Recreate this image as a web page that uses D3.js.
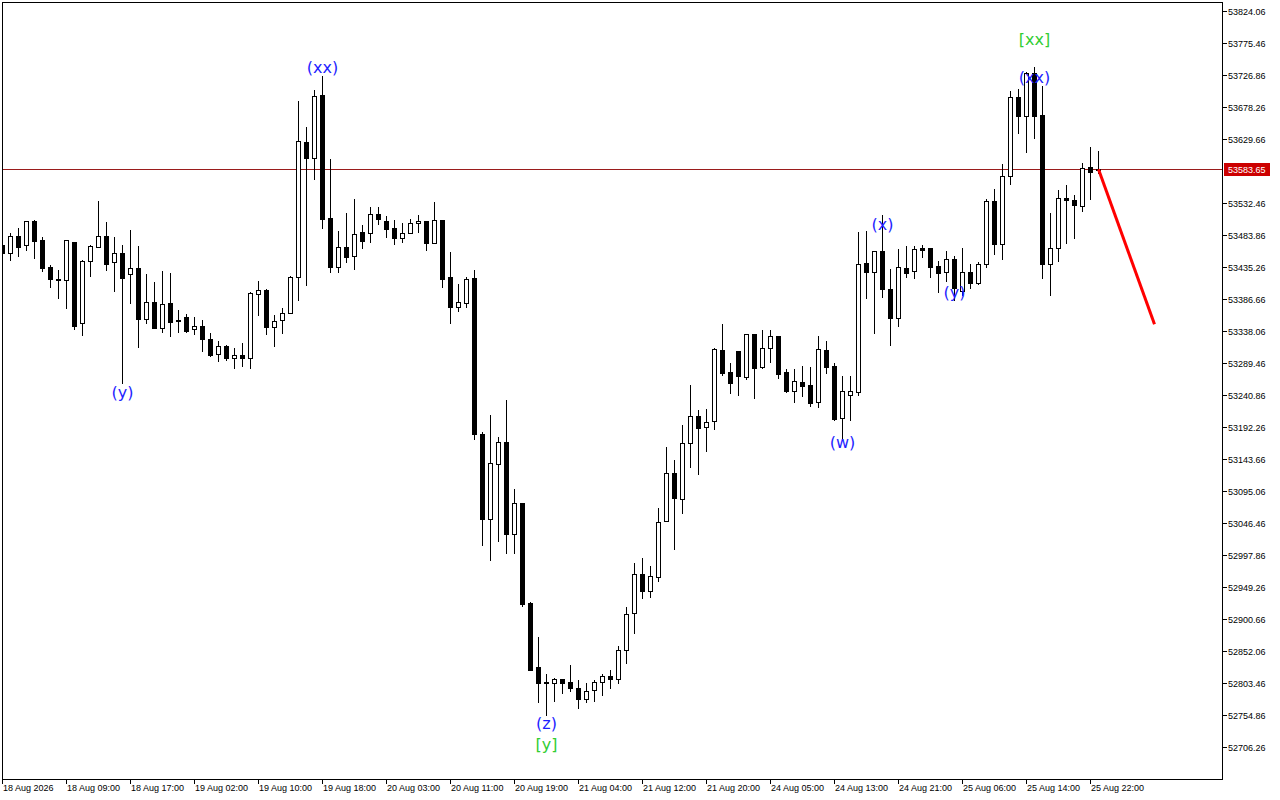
<!DOCTYPE html>
<html><head><meta charset="utf-8">
<script src="https://cdn.jsdelivr.net/npm/d3@7"></script>
<style>body{margin:0;background:#fff;overflow:hidden}svg{display:block}</style>
</head><body>
<svg id="chart" width="1280" height="800"></svg>
<script>
const timeLabels = ["18 Aug 2026","18 Aug 09:00","18 Aug 17:00","19 Aug 02:00","19 Aug 10:00","19 Aug 18:00","20 Aug 03:00","20 Aug 11:00","20 Aug 19:00","21 Aug 04:00","21 Aug 12:00","21 Aug 20:00","24 Aug 05:00","24 Aug 13:00","24 Aug 21:00","25 Aug 06:00","25 Aug 14:00","25 Aug 22:00"];
const labelEvery = 8;
const priceTicks = [53824.06,53775.46,53726.86,53678.26,53629.66,53532.46,53483.86,53435.26,53386.66,53338.06,53289.46,53240.86,53192.26,53143.66,53095.06,53046.46,52997.86,52949.26,52900.66,52852.06,52803.46,52754.86,52706.26];
const currentPrice = 53583.65;

const opens = [53468.7,53456.5,53482.3,53468.7,53505.1,53476.3,53435.3,53417.0,53415.5,53473.2,53350.2,53444.4,53465.6,53482.3,53442.9,53456.5,53424.6,53433.7,53356.3,53382.1,53342.6,53380.6,53354.8,53359.3,53341.1,53345.7,53325.9,53303.1,53315.3,53297.1,53301.6,53297.1,53394.3,53400.3,53344.1,53354.8,53365.4,53420.1,53625.1,53600.8,53696.5,53509.7,53435.3,53465.6,53452.0,53488.4,53486.9,53515.8,53505.1,53494.5,53479.3,53486.9,53502.1,53505.1,53471.7,53506.6,53420.1,53374.5,53380.6,53418.6,53181.6,53052.5,53136.1,53169.5,53029.8,53076.8,52925.0,52827.8,52805.0,52803.5,52809.5,52805.0,52795.9,52779.2,52792.8,52805.0,52814.1,52809.5,52853.6,52909.8,52969.0,52943.2,52964.5,53049.5,53122.4,53082.9,53168.0,53209.0,53192.3,53201.4,53309.2,53275.8,53307.7,53268.2,53333.5,53283.4,53312.2,53330.5,53275.8,53246.9,53260.6,53256.1,53230.2,53309.2,53284.9,53205.9,53240.9,53245.4,53441.3,53427.7,53459.6,53401.9,53357.8,53433.7,53429.2,53464.1,53464.1,53436.8,53427.7,53447.4,53398.8,53427.7,53411.0,53439.8,53535.5,53470.2,53573.5,53693.4,53664.6,53729.9,53666.1,53439.8,53464.1,53540.1,53537.0,53527.9,53587.1,53584.4];
const highs = [53473.2,53486.9,53494.5,53505.1,53506.6,53480.8,53438.3,53430.7,53476.3,53473.2,53445.9,53468.7,53535.5,53503.6,53480.8,53468.7,53491.5,53467.2,53424.6,53412.5,53429.2,53426.2,53370.0,53363.9,53359.3,53354.8,53335.0,53322.9,53316.8,53312.2,53319.8,53397.3,53414.0,53401.9,53362.4,53373.0,53421.6,53687.4,53647.9,53704.1,53725.3,53599.3,53489.9,53517.3,53538.5,53499.1,53526.4,53526.4,53512.7,53506.6,53502.1,53508.2,53514.2,53505.1,53534.0,53506.6,53458.0,53409.4,53420.1,53430.7,53184.7,53210.5,53177.1,53233.3,53098.1,53076.8,52926.5,52873.3,52817.1,52811.1,52809.5,52830.8,52808.0,52803.5,52808.0,52817.1,52823.2,52859.7,52918.9,52985.7,52993.3,52981.2,53069.2,53161.9,53142.1,53195.3,53256.1,53218.1,53219.6,53312.2,53348.7,53289.5,53307.7,53333.5,53333.5,53339.6,53339.6,53330.5,53280.4,53280.4,53284.9,53283.4,53330.5,53322.9,53289.5,53269.7,53269.7,53488.4,53489.9,53459.6,53514.2,53432.2,53462.6,53467.2,53467.2,53468.7,53464.1,53444.4,53459.6,53452.0,53464.1,53439.8,53442.9,53538.5,53553.7,53591.7,53702.6,53705.6,53731.4,53739.0,53710.2,53517.3,53552.2,53559.8,53544.6,53593.2,53617.5,53611.4];
const lows = [53450.5,53445.9,53452.0,53461.1,53448.9,53429.2,53404.9,53388.2,53373.0,53341.1,53332.0,53421.6,53465.6,53430.7,53398.8,53259.1,53380.6,53313.8,53350.2,53342.6,53336.5,53330.5,53336.5,53336.5,53333.5,53307.7,53300.1,53292.5,53294.0,53281.9,53284.9,53281.9,53362.4,53333.5,53315.3,53335.0,53365.4,53385.1,53407.9,53568.9,53494.5,53427.7,53427.7,53442.9,53432.2,53464.1,53473.2,53500.6,53480.8,53470.2,53473.2,53486.9,53488.4,53461.1,53471.7,53404.9,53350.2,53368.4,53374.5,53174.0,53013.1,52990.3,53019.1,53000.9,53000.9,52920.4,52823.2,52774.6,52754.9,52776.1,52788.3,52791.3,52765.5,52774.6,52776.1,52785.2,52795.9,52803.5,52833.8,52879.4,52932.6,52934.1,52958.4,53049.5,53007.0,53061.7,53131.5,53120.9,53155.8,53189.2,53271.2,53243.9,53240.9,53265.2,53236.3,53281.9,53291.0,53266.7,53245.4,53230.2,53239.3,53224.2,53222.6,53274.3,53202.9,53172.5,53202.9,53240.9,53388.2,53335.0,53389.7,53316.8,53345.7,53420.1,53418.6,53450.5,53420.1,53397.3,53414.0,53385.1,53392.7,53403.4,53409.4,53435.3,53455.0,53447.4,53561.3,53638.8,53609.9,53631.2,53418.6,53392.7,53444.4,53471.7,53479.3,53520.3,53538.5,53578.0];
const closes = [53456.5,53482.3,53465.6,53505.1,53474.8,53433.7,53417.0,53415.5,53476.3,53345.7,53444.4,53467.2,53482.3,53439.8,53456.5,53418.6,53433.7,53356.3,53382.1,53342.6,53379.1,53351.7,53353.3,53338.1,53345.7,53325.9,53301.6,53315.3,53297.1,53301.6,53297.1,53395.8,53400.3,53344.1,53353.3,53365.4,53420.1,53626.6,53600.8,53695.0,53508.2,53435.3,53465.6,53450.5,53485.4,53474.8,53515.8,53508.2,53493.0,53479.3,53486.9,53502.1,53505.1,53471.7,53506.6,53417.0,53374.5,53382.1,53417.0,53181.6,53052.5,53137.6,53169.5,53029.8,53076.8,52923.4,52823.2,52803.5,52803.5,52809.5,52803.5,52795.9,52779.2,52791.3,52805.0,52814.1,52809.5,52853.6,52908.3,52969.0,52943.2,52966.0,53048.0,53122.4,53084.4,53168.0,53209.0,53190.7,53199.9,53310.7,53274.3,53259.1,53269.7,53333.5,53281.9,53312.2,53330.5,53272.8,53246.9,53262.1,53254.5,53228.7,53310.7,53283.4,53204.4,53246.9,53246.9,53439.8,53427.7,53459.6,53401.9,53357.8,53435.3,53426.2,53462.6,53461.1,53435.3,53426.2,53447.4,53403.4,53427.7,53411.0,53439.8,53535.5,53470.2,53573.5,53693.4,53664.6,53729.9,53664.6,53439.8,53464.1,53540.1,53537.0,53529.4,53585.6,53579.5,53583.65];

// wave labels: text, bar index, price, colour
const waveText  = ["(y)","(xx)","(z)","[y]","(w)","(x)","(y)","(xx)","[xx]"];
const waveIndex = [15,40,68,68,105,110,119,129,129];
const wavePrice = [53245.4,53737.5,52742.7,52710.8,53168.0,53499.1,53395.8,53723.8,53781.5];
const waveColor = ["#1e1eff","#1e1eff","#1e1eff","#32cd32","#1e1eff","#1e1eff","#1e1eff","#1e1eff","#32cd32"];

// projection line
const projIndex = [137,144];
const projPrice = [53583.65,53348.2];

const svg = d3.select("#chart");
const L = 2, R = 1222, T = 2, B = 779;
const x = d3.scaleLinear().domain([0,152.5]).range([L,R]);
const y = d3.scaleLinear().domain([52706.26,53824.06]).range([747,11]);

svg.append("defs").append("clipPath").attr("id","clip")
  .append("rect").attr("x",L).attr("y",T).attr("width",R-L).attr("height",B-T);
const g = svg.append("g").attr("clip-path","url(#clip)");

// price line
const py = Math.round(y(currentPrice))+0.5;
g.append("line").attr("x1",L).attr("x2",R).attr("y1",py).attr("y2",py)
  .attr("stroke","#9a1c1c").attr("stroke-width",1);

const data = opens.map((o,i)=>({i,o,h:highs[i],l:lows[i],c:closes[i]}));
const cg = g.append("g");
data.forEach(d=>{
  const rx = Math.round(x(d.i));
  const yh = Math.round(y(d.h)), yl = Math.round(y(d.l));
  cg.append("line").attr("x1",rx+0.5).attr("x2",rx+0.5).attr("y1",yh).attr("y2",yl+1)
    .attr("stroke","#000").attr("stroke-width",1);
  const top = Math.round(y(Math.max(d.o,d.c))), bot = Math.round(y(Math.min(d.o,d.c)));
  if (d.c > d.o) {
    cg.append("rect").attr("x",rx-1.5).attr("y",top+0.5).attr("width",4).attr("height",Math.max(bot-top,1))
      .attr("fill","#fff").attr("stroke","#000").attr("stroke-width",1);
  } else {
    cg.append("rect").attr("x",rx-2).attr("y",top).attr("width",5).attr("height",Math.max(bot-top+1,2))
      .attr("fill","#000");
  }
});

// projection
g.append("line")
  .attr("x1",x(projIndex[0])+0.5).attr("y1",y(projPrice[0]))
  .attr("x2",x(projIndex[1])+0.5).attr("y2",y(projPrice[1]))
  .attr("stroke","#ff0000").attr("stroke-width",3);

// wave labels
waveText.forEach((t,k)=>{
  g.append("text").attr("x",x(waveIndex[k])+0.5).attr("y",y(wavePrice[k]))
    .attr("text-anchor","middle").attr("dominant-baseline","central")
    .attr("font-family","DejaVu Sans").attr("font-size",16)
    .attr("fill",waveColor[k]).text(t);
});

// frame
svg.append("rect").attr("x",L+0.5).attr("y",T+0.5).attr("width",R-L).attr("height",B-T)
  .attr("fill","none").attr("stroke","#000").attr("stroke-width",1);

// y axis
const yAxis = svg.append("g");
priceTicks.forEach(p=>{
  const ty = Math.round(y(p))+0.5;
  yAxis.append("line").attr("x1",R).attr("x2",R+5).attr("y1",ty).attr("y2",ty).attr("stroke","#000");
  yAxis.append("text").attr("x",R+6).attr("y",ty).attr("dominant-baseline","central")
    .attr("font-family","Liberation Sans").attr("font-size",9).attr("fill","#000").text(p.toFixed(2));
});
// current price label
yAxis.append("rect").attr("x",R+2).attr("y",py-6.5).attr("width",46).attr("height",13).attr("fill","#cc0000");
yAxis.append("text").attr("x",R+6).attr("y",py).attr("dominant-baseline","central")
  .attr("font-family","Liberation Sans").attr("font-size",9).attr("fill","#fff").text(currentPrice.toFixed(2));

// x axis
const xAxis = svg.append("g");
timeLabels.forEach((t,k)=>{
  const tx = Math.round(x(k*labelEvery))+0.5;
  xAxis.append("line").attr("x1",tx).attr("x2",tx).attr("y1",B).attr("y2",B+5).attr("stroke","#000");
  xAxis.append("text").attr("x",tx+0.5).attr("y",B+9).attr("dominant-baseline","central")
    .attr("font-family","Liberation Sans").attr("font-size",9).attr("fill","#000").text(t);
});
</script>
</body></html>
